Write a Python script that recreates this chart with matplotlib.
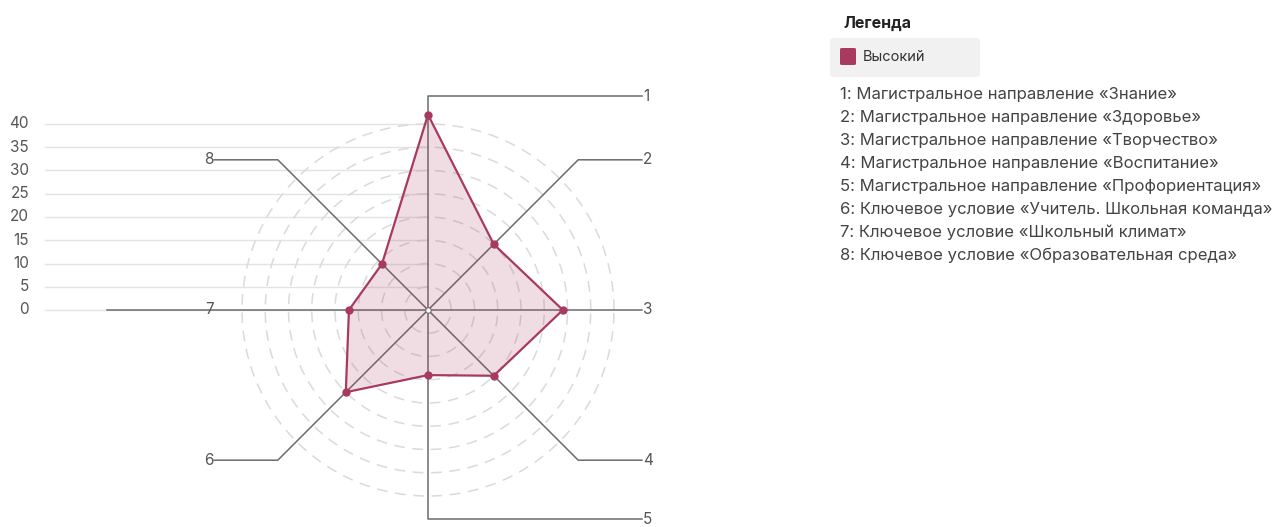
import numpy as np
import matplotlib.pyplot as plt
from matplotlib.patches import FancyBboxPatch

plt.rcParams['font.family'] = ['Inter', 'DejaVu Sans']

# данные
axis_ids = ['1', '2', '3', '4', '5', '6', '7', '8']
values = [42, 20, 29, 20, 14, 25, 17, 14]
yticks = [0, 5, 10, 15, 20, 25, 30, 35, 40]
series_name = 'Высокий'
legend_title = 'Легенда'
legend_items = [
    '1: Магистральное направление «Знание»',
    '2: Магистральное направление «Здоровье»',
    '3: Магистральное направление «Творчество»',
    '4: Магистральное направление «Воспитание»',
    '5: Магистральное направление «Профориентация»',
    '6: Ключевое условие «Учитель. Школьная команда»',
    '7: Ключевое условие «Школьный климат»',
    '8: Ключевое условие «Образовательная среда»',
]

W, H = 1281, 527
cx, cy = 428, 310      # центр в пикселях
ppu = 4.65             # пикселей на единицу
color = '#a83a5f'
axis_col = '#6b6b6b'
text_col = '#555555'

fig = plt.figure(figsize=(W / 100, H / 100), dpi=100)
ax = fig.add_axes([0, 0, 1, 1])
ax.set_xlim(-cx / ppu, (W - cx) / ppu)
ax.set_ylim(-(H - cy) / ppu, cy / ppu)
ax.axis('off')

# горизонтальная сетка и подписи оси значений
x_grid0 = (45 - cx) / ppu
for t in yticks:
    ax.plot([x_grid0, 0], [t, t], color='#e3e3e3', lw=1, zorder=1)
    ax.text((29 - cx) / ppu, t, str(t), ha='right', va='center',
            fontsize=11, color=text_col)

# пунктирные окружности
th = np.linspace(0, 2 * np.pi, 400)
for r in yticks[1:]:
    ax.plot(r * np.cos(th), r * np.sin(th), color='#dadada', lw=1.1,
            ls=(0, (7, 5)), zorder=1)

# оси с изломом
n = len(axis_ids)
angles = np.pi / 2 - np.arange(n) * 2 * np.pi / n
R = 46.0
for i, a in enumerate(angles):
    c, s = np.cos(a), np.sin(a)
    if abs(s) < 1e-6 and c < 0:
        # ось 7 уходит дальше влево
        ax.plot([0, -69], [0, 0], color=axis_col, lw=1.1, zorder=2)
        ax.text(-47, 0, axis_ids[i], ha='center', va='center',
                fontsize=11, color=text_col, zorder=4)
        continue
    if abs(s) < 1e-6:
        ex, ey = R, 0
    elif abs(c) < 1e-6:
        ex, ey = 0, (R if s > 0 else 45.0)
        ey = ey * np.sign(s)
    else:
        ex, ey = 32.3 * np.sign(c), 32.3 * np.sign(s)
    side = 1 if c > -1e-6 else -1
    ax.plot([0, ex, side * R], [0, ey, ey], color=axis_col, lw=1.1, zorder=2)
    ax.text(side * (R + 0.2), ey, axis_ids[i],
            ha='left' if side > 0 else 'right', va='center',
            fontsize=11, color=text_col)

# многоугольник значений
v = np.array(values, dtype=float)
px = v * np.cos(angles)
py = v * np.sin(angles)
ax.fill(np.r_[px, px[0]], np.r_[py, py[0]], color=color, alpha=0.17, lw=0, zorder=3)
ax.plot(np.r_[px, px[0]], np.r_[py, py[0]], color=color, lw=1.6, zorder=4)
ax.plot(px, py, 'o', color=color, ms=5, zorder=5)
ax.plot([0], [0], 'o', mfc='white', mec=axis_col, ms=4, mew=0.8, zorder=5)

# легенда
def fx(x):
    return x / W

def fy(y):
    return 1 - y / H

fig.text(fx(843), fy(23), legend_title, fontsize=11.5, fontweight='bold',
         color='#222222', va='center')
fig.patches.append(FancyBboxPatch((fx(830), fy(77)), fx(150), 39 / H,
                                  boxstyle='round,pad=0,rounding_size=0.004',
                                  transform=fig.transFigure, fc='#f1f1f1', ec='none'))
fig.patches.append(FancyBboxPatch((fx(840), fy(65)), fx(16), 17 / H,
                                  boxstyle='round,pad=0,rounding_size=0.002',
                                  transform=fig.transFigure, fc=color, ec='none'))
fig.text(fx(863), fy(57), series_name, fontsize=10.5, color='#333333', va='center')

for k, s in enumerate(legend_items):
    fig.text(fx(840), fy(95 + k * 22.9), s, fontsize=12, color='#444444',
             va='center')

fig.savefig('out.png', dpi=100)
